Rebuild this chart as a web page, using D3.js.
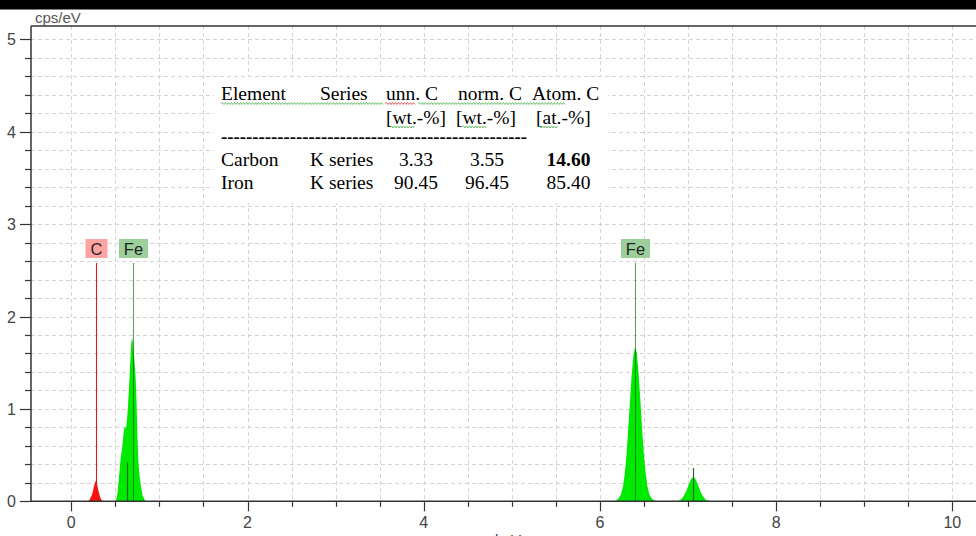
<!DOCTYPE html>
<html><head><meta charset="utf-8">
<script src="https://cdn.jsdelivr.net/npm/d3@7"></script>
<style>html,body{margin:0;padding:0;background:#fff;overflow:hidden}</style>
</head><body>
<svg id="chart" width="976" height="536"></svg>
<script>
// ---------------- DATA ----------------
const xTickLabels = [0, 2, 4, 6, 8, 10];
const yTickLabels = [0, 1, 2, 3, 4, 5];
const yAxisLabel = "cps/eV";
const xAxisLabel = "keV";

// Carbon K peak (keV, cps/eV)
const carbonEnergy = [0.19,0.20,0.21,0.22,0.23,0.24,0.25,0.26,0.27,0.28,0.29,0.30,0.31,0.32,0.33,0.34,0.35,0.36];
const carbonCounts = [0,0.01,0.02,0.04,0.06,0.09,0.13,0.17,0.21,0.22,0.19,0.15,0.11,0.07,0.04,0.02,0.01,0];

// Iron L peak
const feLEnergy = [0.50,0.51,0.52,0.53,0.54,0.55,0.56,0.57,0.58,0.59,0.60,0.61,0.62,0.63,0.64,0.65,0.66,0.67,0.68,0.69,0.70,0.71,0.72,0.73,0.74,0.75,0.76,0.77,0.78,0.79,0.80,0.81,0.82,0.83,0.84,0.85];
const feLCounts  = [0,0.02,0.06,0.14,0.24,0.36,0.46,0.53,0.60,0.70,0.79,0.81,0.78,0.86,0.98,1.15,1.32,1.52,1.70,1.77,1.72,1.60,1.48,1.34,1.10,0.72,0.46,0.32,0.23,0.17,0.11,0.06,0.04,0.02,0.01,0];

// Iron K-alpha peak
const feKaEnergy = [6.16,6.18,6.20,6.22,6.24,6.26,6.28,6.30,6.32,6.34,6.36,6.38,6.40,6.42,6.44,6.46,6.48,6.50,6.52,6.54,6.56,6.58,6.60,6.62,6.64];
const feKaCounts = [0,0.01,0.02,0.04,0.08,0.15,0.28,0.48,0.76,1.06,1.36,1.58,1.67,1.60,1.38,1.08,0.77,0.50,0.30,0.16,0.08,0.04,0.02,0.01,0];

// Iron K-beta peak
const feKbEnergy = [6.88,6.90,6.92,6.94,6.96,6.98,7.00,7.02,7.04,7.06,7.08,7.10,7.12,7.14,7.16,7.18,7.20,7.22,7.24];
const feKbCounts = [0,0.01,0.02,0.04,0.07,0.11,0.16,0.21,0.25,0.26,0.25,0.21,0.16,0.11,0.07,0.04,0.02,0.01,0];

// Element line markers
const markerElements = ["C", "Fe", "Fe"];
const markerEnergies = [0.277, 0.705, 6.403];
const markerHeights  = [2.58, 2.58, 2.58];
const minorLineEnergies = [0.628, 7.058];
const minorLineHeights  = [0.42, 0.36];

// Quantification table
const tableHeader1 = ["Element", "Series", "unn. C", "norm. C", "Atom. C"];
const tableHeader2 = ["", "", "[wt.-%]", "[wt.-%]", "[at.-%]"];
const tableElements = ["Carbon", "Iron"];
const tableSeries = ["K series", "K series"];
const tableUnn = ["3.33", "90.45"];
const tableNorm = ["3.55", "96.45"];
const tableAtom = ["14.60", "85.40"];

// ---------------- CHART ----------------
const svg = d3.select("#chart");
const W = 976, H = 536;
const plotLeft = 31, plotTop = 26, plotBottom = 501.3, plotRight = 976;

const x = d3.scaleLinear().domain([0, 10]).range([71.3, 952.3]);
const y = d3.scaleLinear().domain([0, 5]).range([501.3, 39.3]);

// top black bar
svg.append("rect").attr("x",0).attr("y",0).attr("width",W).attr("height",9.5).attr("fill","#000");

// grid
const grid = svg.append("g").attr("stroke","#d4d4d4").attr("stroke-width",1).attr("stroke-dasharray","4,3");
d3.range(0, 10.26, 0.5).forEach(v => {
  grid.append("line").attr("x1",Math.round(x(v))+0.5).attr("x2",Math.round(x(v))+0.5)
    .attr("y1",plotTop).attr("y2",plotBottom);
});
d3.range(1, 26).map(i => i*0.2).forEach(v => {
  grid.append("line").attr("x1",plotLeft).attr("x2",plotRight)
    .attr("y1",Math.round(y(v))+0.5).attr("y2",Math.round(y(v))+0.5);
});

// table background and text
const tbl = svg.append("g");
tbl.append("rect").attr("x",214).attr("y",77).attr("width",394).attr("height",126).attr("fill","#fff");
const serif = "'Liberation Serif','Times New Roman',serif";
function txt(s, xx, yy, opts={}) {
  return tbl.append("text").attr("x",xx).attr("y",yy).text(s)
    .attr("font-family",serif).attr("font-size",opts.size||19.5)
    .attr("font-weight",opts.bold?"bold":"normal")
    .attr("text-anchor",opts.anchor||"start").attr("fill","#000");
}
const hdrX = [221, 320, 386, 458, 532];
tableHeader1.forEach((s,i) => txt(s, hdrX[i], 100));
const hdr2X = [0, 0, 386, 456, 536];
tableHeader2.forEach((s,i) => { if (s) txt(s, hdr2X[i], 124); });
txt("-------------------------------------------------", 221, 143).attr("font-weight","bold").attr("textLength",306).attr("lengthAdjust","spacingAndGlyphs");
const rowY = [166, 189];
tableElements.forEach((s,i) => {
  txt(s, 221, rowY[i]);
  txt(tableSeries[i], 310, rowY[i]);
  txt(tableUnn[i], 416, rowY[i], {anchor:"middle"});
  txt(tableNorm[i], 487, rowY[i], {anchor:"middle"});
  txt(tableAtom[i], 568.5, rowY[i], {anchor:"middle", bold: i===0});
});
// spell-check wavy underlines
function wavy(x1, x2, yy, color) {
  let d = `M${x1},${yy}`;
  let up = true;
  for (let xx = x1 + 1.5; xx <= x2; xx += 1.5) { d += `L${xx},${yy + (up ? -1 : 1)}`; up = !up; }
  tbl.append("path").attr("d", d).attr("fill","none").attr("stroke",color).attr("stroke-width",0.9);
}
wavy(221, 383, 103.5, "#5cb85c");
wavy(385, 416, 103.5, "#e05050");
wavy(418, 565, 103.5, "#5cb85c");
wavy(390, 415, 127, "#5cb85c");
wavy(462, 486, 127, "#5cb85c");
wavy(538, 558, 127, "#5cb85c");

// spectrum
const area = d3.area().x(d => x(d[0])).y0(y(0)).y1(d => y(d[1]));
function peak(es, cs, color) {
  svg.append("path").datum(es.map((e,i) => [e, cs[i]])).attr("d", area).attr("fill", color).attr("stroke","none");
}
peak(carbonEnergy, carbonCounts, "#ff1010");
peak(feLEnergy, feLCounts, "#00ea00");
peak(feKaEnergy, feKaCounts, "#00ea00");
peak(feKbEnergy, feKbCounts, "#00ea00");

// minor element lines
minorLineEnergies.forEach((e,i) => {
  svg.append("line").attr("x1",Math.round(x(e))+0.5).attr("x2",Math.round(x(e))+0.5)
    .attr("y1",y(minorLineHeights[i])).attr("y2",y(0)).attr("stroke","#1f6a1f").attr("stroke-width",1.2);
});

// markers
const sans = "'Liberation Sans',Arial,sans-serif";
markerElements.forEach((el,i) => {
  const mx = Math.round(x(markerEnergies[i])) + 0.5;
  const isC = el === "C";
  svg.append("line").attr("x1",mx).attr("x2",mx).attr("y1",y(markerHeights[i])).attr("y2",y(0))
    .attr("stroke", isC ? "#e01818" : "rgba(0,80,0,0.58)").attr("stroke-width",1.1);
  const bw = isC ? 22 : 29;
  svg.append("rect").attr("x", mx - bw/2).attr("y",239).attr("width",bw).attr("height",19)
    .attr("fill", isC ? "#ffa3a3" : "#9ccf9c");
  svg.append("text").attr("x", mx).attr("y",254.5).attr("text-anchor","middle")
    .attr("font-family",sans).attr("font-size",16.5).attr("fill","#222").text(el);
});

// axes
const axisColor = "#333";
const ax = svg.append("g").attr("stroke",axisColor).attr("fill","none");
ax.append("line").attr("x1",plotLeft).attr("x2",plotRight).attr("y1",plotTop).attr("y2",plotTop).attr("stroke-width",1.6);
ax.append("line").attr("x1",plotLeft).attr("x2",plotRight).attr("y1",plotBottom).attr("y2",plotBottom).attr("stroke-width",1.5);
ax.append("line").attr("x1",plotLeft).attr("x2",plotLeft).attr("y1",plotTop).attr("y2",plotBottom).attr("stroke-width",1.5);

// x ticks
d3.range(0, 10.26, 0.5).forEach(v => {
  const major = xTickLabels.includes(v);
  const px = Math.round(x(v)) + 0.5;
  ax.append("line").attr("x1",px).attr("x2",px).attr("y1",plotBottom).attr("y2",plotBottom + (major ? 10 : 5.5)).attr("stroke-width",1.2);
});
xTickLabels.forEach(v => {
  svg.append("text").attr("x", x(v)).attr("y", 528).attr("text-anchor","middle")
    .attr("font-family",sans).attr("font-size",16).attr("fill","#444").text(v);
});
// y ticks
d3.range(0, 26).map(i => i*0.2).forEach((v,i) => {
  const major = i % 5 === 0;
  const py = Math.round(y(v)) + 0.5;
  ax.append("line").attr("x1",plotLeft - (major ? 11 : 6)).attr("x2",plotLeft).attr("y1",py).attr("y2",py).attr("stroke-width",1.2);
});
yTickLabels.forEach(v => {
  svg.append("text").attr("x", 16).attr("y", y(v) + 6).attr("text-anchor","end")
    .attr("font-family",sans).attr("font-size",16).attr("fill","#444").text(v);
});
svg.append("text").attr("x",35).attr("y",23).attr("font-family",sans).attr("font-size",15).attr("fill","#555").text(yAxisLabel);
svg.append("text").attr("x",508).attr("y",545).attr("text-anchor","middle").attr("font-family",sans).attr("font-size",15).attr("fill","#444").text(xAxisLabel);
</script>
</body></html>
